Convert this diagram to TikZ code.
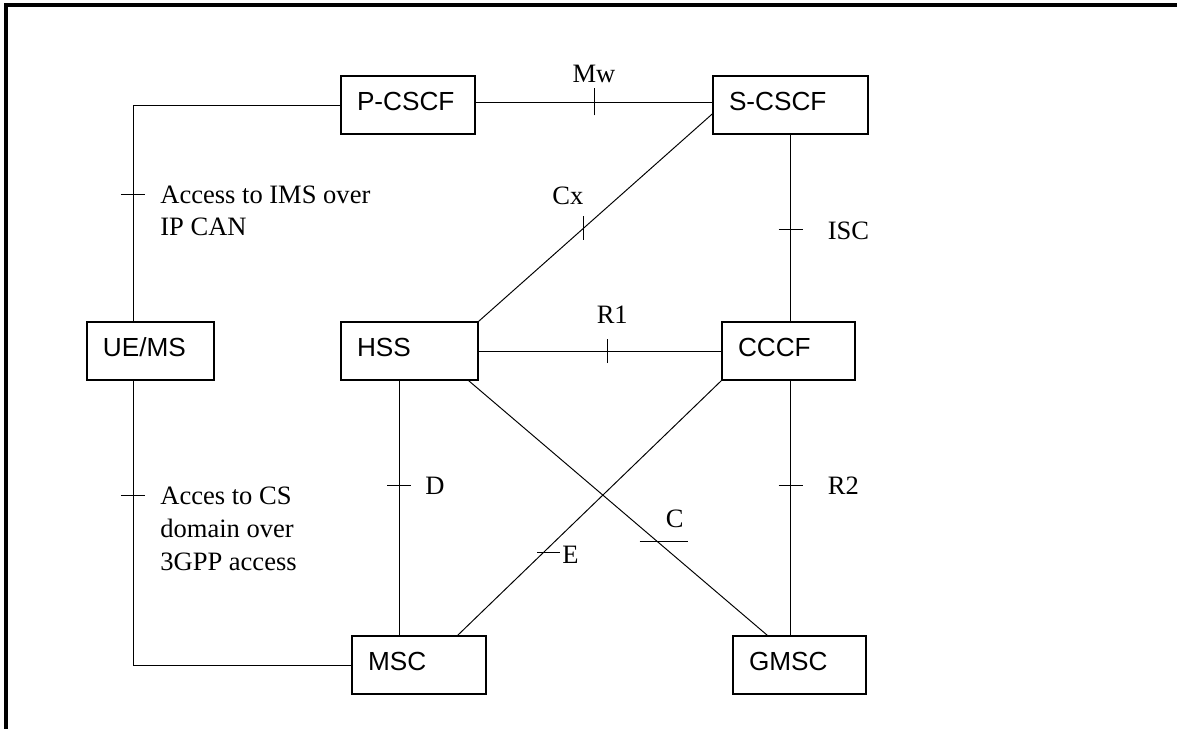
\documentclass[tikz,border=0pt]{standalone}
\usepackage{fontspec}
\setmainfont{Liberation Serif}
\newfontfamily\boxfont{Liberation Sans}
\usetikzlibrary{positioning,calc}

\begin{document}
\begin{tikzpicture}[
    every node/.style={inner sep=0pt},
    netbox/.style={draw, line width=0.9pt, rectangle, minimum height=1.16cm,
        inner xsep=0.32cm, align=left, text depth=0.15cm,
        font=\boxfont\fontsize{14.9}{17}\selectfont},
    link/.style={line width=0.55pt},
    ifname/.style={align=left, font=\fontsize{15.1}{18.7}\selectfont}
]
    \useasboundingbox (0,0) rectangle (23.54,-14.58);

    % Frame (top and left edge only)
    \draw[line width=1.8pt] (0.12,-14.58) -- (0.12,-0.10) -- (23.54,-0.10);

    % --- Network elements ---
    \node[netbox, text width=2.04cm] (pcscf) at (8.16,-2.10) {P-CSCF};
    \node[netbox, text width=2.46cm] (scscf) at (15.81,-2.10) {S-CSCF};
    \node[netbox, text width=1.90cm] (uems) at (3.01,-7.02) {UE/MS};
    \node[netbox, text width=2.10cm] (hss) at (8.19,-7.02) {HSS};
    \node[netbox, text width=2.02cm] (cccf) at (15.77,-7.02) {CCCF};
    \node[netbox, text width=2.04cm] (msc) at (8.38,-13.30) {MSC};
    \node[netbox, text width=2.02cm] (gmsc) at (15.99,-13.30) {GMSC};

    % --- UE/MS access legs ---
    \draw[link] (pcscf.west) -| ([xshift=-0.35cm]uems.north);
    \coordinate (tIMS) at ([xshift=-0.35cm,yshift=2.54cm]uems.north);
    \draw[link] ([xshift=-0.24cm]tIMS) -- ([xshift=0.24cm]tIMS);
    \node[ifname, anchor=north west] (lIMS) at ([xshift=0.54cm,yshift=0.18cm]tIMS) {Access to IMS over\\IP CAN};

    \draw[link] ([xshift=-0.35cm]uems.south) |- (msc.west);
    \coordinate (tCS) at ([xshift=-0.35cm,yshift=-2.30cm]uems.south);
    \draw[link] ([xshift=-0.24cm]tCS) -- ([xshift=0.24cm]tCS);
    \node[ifname, anchor=north west] (lCS) at ([xshift=0.54cm,yshift=0.18cm]tCS) {Acces to CS\\domain over\\3GPP access};

    % --- Mw ---
    \draw[link] ([yshift=0.06cm]pcscf.east) -- ([yshift=0.06cm]pcscf.east -| scscf.west) coordinate[pos=0.5] (tMw);
    \draw[link] ([yshift=-0.27cm]tMw) -- ([yshift=0.27cm]tMw);
    \node[ifname, anchor=base] (lMw) at ([yshift=0.38cm]tMw) {Mw};

    % --- Cx ---
    \draw[link] (hss.north east) -- ([yshift=-0.18cm]scscf.west) coordinate[pos=0.45] (tCx);
    \draw[link] ([yshift=-0.24cm]tCx) -- ([yshift=0.24cm]tCx);
    \node[ifname, anchor=base] (lCx) at ([xshift=-0.32cm,yshift=0.46cm]tCx) {Cx};

    % --- ISC ---
    \draw[link] (scscf.south) -- (scscf.south |- cccf.north) coordinate[pos=0.51] (tISC);
    \draw[link] ([xshift=-0.24cm]tISC) -- ([xshift=0.24cm]tISC);
    \node[ifname, anchor=base west] (lISC) at ([xshift=0.74cm,yshift=-0.20cm]tISC) {ISC};

    % --- R1 ---
    \draw[link] (hss.east) -- (cccf.west) coordinate[pos=0.53] (tR1);
    \draw[link] ([yshift=-0.24cm]tR1) -- ([yshift=0.24cm]tR1);
    \node[ifname, anchor=base] (lR1) at ([xshift=0.10cm,yshift=0.56cm]tR1) {R1};

    % --- D ---
    \draw[link] ([xshift=-0.21cm]hss.south) -- ([xshift=-0.21cm]hss.south |- msc.north) coordinate[pos=0.41] (tD);
    \draw[link] ([xshift=-0.24cm]tD) -- ([xshift=0.24cm]tD);
    \node[ifname, anchor=base west] (lD) at ([xshift=0.52cm,yshift=-0.18cm]tD) {D};

    % --- R2 ---
    \draw[link] (scscf.south |- cccf.south) -- (scscf.south |- gmsc.north) coordinate[pos=0.41] (tR2);
    \draw[link] ([xshift=-0.24cm]tR2) -- ([xshift=0.24cm]tR2);
    \node[ifname, anchor=base west] (lR2) at ([xshift=0.74cm,yshift=-0.18cm]tR2) {R2};

    % --- C (HSS to GMSC) ---
    \draw[link] ([xshift=-0.20cm]hss.south east) -- ([xshift=0.70cm]gmsc.north west) coordinate[pos=0.633] (tC);
    \draw[link] ([xshift=-0.36cm]tC) -- ([xshift=0.60cm]tC);
    \node[ifname, anchor=base] (lC) at ([xshift=0.34cm,yshift=0.28cm]tC) {C};

    % --- E (CCCF to MSC) ---
    \draw[link] (cccf.south west) -- ([xshift=-0.58cm]msc.north east) coordinate[pos=0.676] (tE);
    \draw[link] ([xshift=-0.12cm]tE) -- ([xshift=0.34cm]tE);
    \node[ifname, anchor=base west] (lE) at ([xshift=0.38cm,yshift=-0.22cm]tE) {E};

\end{tikzpicture}
\end{document}
